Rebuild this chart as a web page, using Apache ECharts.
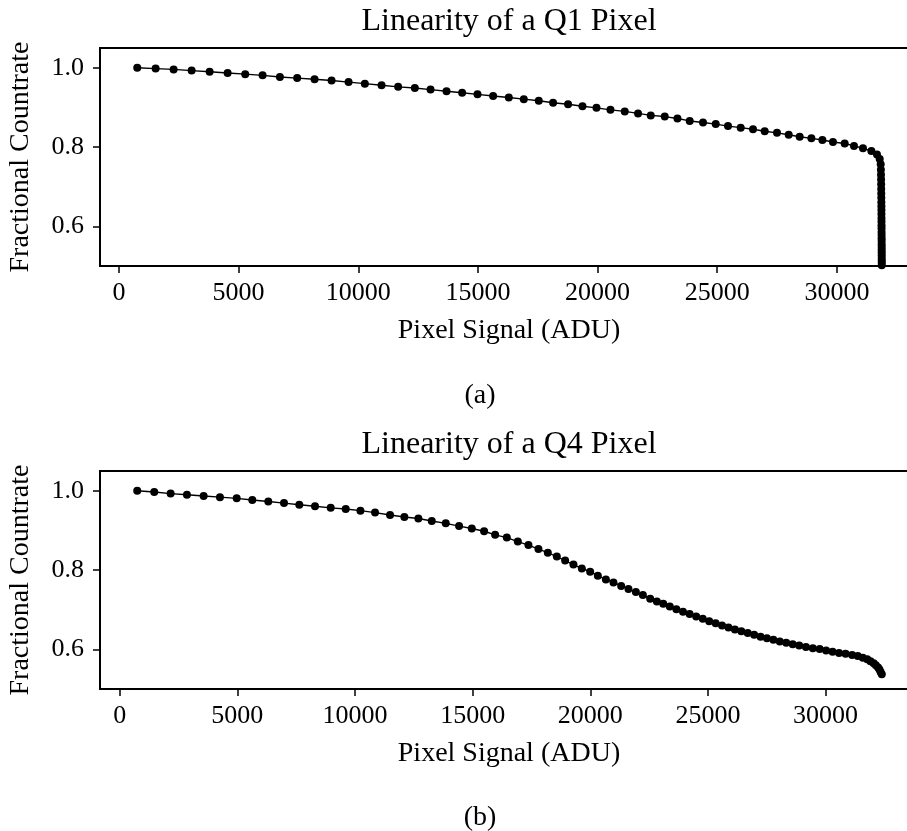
<!DOCTYPE html>
<html>
<head>
<meta charset="utf-8">
<title>Pixel linearity</title>
<script src="https://cdn.jsdelivr.net/npm/echarts@6/dist/echarts.min.js"></script>
<style>
  html, body { margin: 0; padding: 0; background: #fff; overflow: hidden; }
  #chart { width: 930px; height: 831px; }
</style>
</head>
<body>
<div id="chart"></div>
<script>
// Q1 pixel: signal (ADU) and fractional countrate per read
const q1Signal = [764, 1533, 2285, 3037, 3789, 4540, 5276, 6002, 6725, 7448, 8174, 8885, 9595, 10275, 10973,
  11666, 12364, 13020, 13688, 14340, 14983, 15635, 16290, 16917, 17543, 18141, 18767, 19369, 19954, 20538,
  21136, 21691, 22222, 22806, 23337, 23850, 24406, 24937, 25450, 25981, 26495, 26984, 27497, 27986, 28445,
  28934, 29394, 29836, 30325, 30714, 31090, 31441, 31675, 31788,
  31830, 31838, 31843, 31847, 31850, 31852, 31854, 31856, 31858, 31860, 31861, 31862, 31863, 31864, 31865,
  31866, 31867, 31868, 31869, 31870, 31870, 31871, 31871, 31872, 31872, 31873, 31873, 31874, 31874, 31875, 31875];
const q1Rate = [1.000, 0.998, 0.996, 0.993, 0.990, 0.987, 0.984, 0.981, 0.977, 0.974, 0.971, 0.968, 0.964, 0.960, 0.956,
  0.952, 0.949, 0.945, 0.941, 0.937, 0.933, 0.929, 0.925, 0.921, 0.917, 0.912, 0.908, 0.903, 0.899, 0.894,
  0.890, 0.885, 0.880, 0.877, 0.872, 0.866, 0.862, 0.858, 0.853, 0.849, 0.845, 0.840, 0.836, 0.831, 0.826,
  0.822, 0.818, 0.813, 0.809, 0.803, 0.797, 0.790, 0.781, 0.770,
  0.757, 0.743, 0.730, 0.718, 0.706, 0.694, 0.683, 0.672, 0.661, 0.651, 0.641, 0.631, 0.621, 0.612, 0.603,
  0.595, 0.586, 0.578, 0.570, 0.563, 0.555, 0.548, 0.541, 0.534, 0.527, 0.520, 0.514, 0.508, 0.502, 0.496, 0.490];

// Q4 pixel: signal (ADU) and fractional countrate per read
const q4Signal = [744, 1467, 2164, 2857, 3567, 4260, 4971, 5634, 6314, 6982, 7632, 8300, 8967, 9605, 10230,
  10851, 11489, 12097, 12692, 13262, 13857, 14423, 14963, 15486, 15954, 16451, 16919, 17370, 17795, 18194,
  18577, 18930, 19283, 19640, 19993, 20320, 20661, 20984, 21311, 21621, 21936, 22234, 22544, 22829,
  23099, 23378, 23658, 23939, 24220, 24499, 24779, 25053, 25326, 25598, 25871, 26144, 26417, 26690, 26963,
  27235, 27506, 27779, 28052, 28325, 28601, 28877, 29164, 29457, 29747, 30021, 30295, 30571, 30849, 31127,
  31367, 31581, 31769, 31906, 32043, 32136, 32230, 32289, 32338, 32387];
const q4Rate = [1.000, 0.997, 0.993, 0.990, 0.987, 0.984, 0.981, 0.977, 0.973, 0.969, 0.965, 0.961, 0.957, 0.954, 0.950,
  0.945, 0.939, 0.934, 0.930, 0.924, 0.918, 0.911, 0.905, 0.898, 0.889, 0.882, 0.872, 0.863, 0.853, 0.844,
  0.834, 0.824, 0.814, 0.804, 0.796, 0.786, 0.776, 0.769, 0.760, 0.752, 0.745, 0.737, 0.728, 0.721,
  0.715, 0.708, 0.701, 0.695, 0.689, 0.683, 0.677, 0.671, 0.666, 0.660, 0.655, 0.650, 0.646, 0.641, 0.637,
  0.632, 0.628, 0.624, 0.620, 0.617, 0.613, 0.610, 0.606, 0.603, 0.601, 0.597, 0.594, 0.591, 0.589, 0.586,
  0.583, 0.579, 0.575, 0.570, 0.565, 0.560, 0.554, 0.549, 0.543, 0.537];

// Tick labels
const xTicks = [0, 5000, 10000, 15000, 20000, 25000, 30000];
const yTicks = [0.6, 0.8, 1.0];

const FONT = '"Liberation Serif", "DejaVu Serif", serif';
const INK = '#000';

function pairs(xs, ys) {
  return xs.map((x, i) => [x, ys[i]]);
}

function xAxisFor(gridIndex, min, max) {
  return {
    type: 'value', gridIndex, min, max,
    splitLine: { show: false },
    axisLine: { show: true, onZero: false, lineStyle: { color: INK, width: 2 } },
    axisTick: { show: true, inside: false, length: 7, lineStyle: { color: INK, width: 1.5 }, customValues: xTicks },
    axisLabel: { customValues: xTicks, color: INK, fontFamily: FONT, fontSize: 26, margin: 14, formatter: v => String(v) }
  };
}

function yAxisFor(gridIndex) {
  return {
    type: 'value', gridIndex, min: 0.5, max: 1.05,
    splitLine: { show: false },
    axisLine: { show: true, onZero: false, lineStyle: { color: INK, width: 2 } },
    axisTick: { show: true, inside: false, length: 7, lineStyle: { color: INK, width: 1.5 }, customValues: yTicks },
    axisLabel: { customValues: yTicks, color: INK, fontFamily: FONT, fontSize: 26, margin: 16, formatter: v => v.toFixed(1) }
  };
}

function seriesFor(idx, data) {
  return {
    type: 'line', xAxisIndex: idx, yAxisIndex: idx, data,
    symbol: 'circle', symbolSize: 8, showAllSymbol: true, clip: true,
    lineStyle: { color: INK, width: 1.4 },
    itemStyle: { color: INK },
    emphasis: { disabled: true }
  };
}

function label(text, x, y, size, rotate) {
  return {
    type: 'text', x, y, rotation: rotate || 0,
    style: { text, fill: INK, font: size + 'px ' + FONT, align: 'center', verticalAlign: 'middle' }
  };
}

const chart = echarts.init(document.getElementById('chart'), null, { renderer: 'canvas' });
chart.setOption({
  animation: false,
  backgroundColor: '#fff',
  grid: [
    { left: 100, top: 48, width: 819, height: 218, show: true, borderColor: INK, borderWidth: 2, containLabel: false },
    { left: 100, top: 471, width: 819, height: 218, show: true, borderColor: INK, borderWidth: 2, containLabel: false }
  ],
  xAxis: [xAxisFor(0, -792, 33431), xAxisFor(1, -838, 33969)],
  yAxis: [yAxisFor(0), yAxisFor(1)],
  series: [seriesFor(0, pairs(q1Signal, q1Rate)), seriesFor(1, pairs(q4Signal, q4Rate))],
  graphic: [
    label('Linearity of a Q1 Pixel', 509, 22, 32),
    label('Pixel Signal (ADU)', 509, 331, 28),
    label('(a)', 480, 396, 28),
    label('Fractional Countrate', 21, 157, 28, Math.PI / 2),
    label('Linearity of a Q4 Pixel', 509, 445, 32),
    label('Pixel Signal (ADU)', 509, 754, 28),
    label('(b)', 480, 818, 28),
    label('Fractional Countrate', 21, 580, 28, Math.PI / 2)
  ]
});
</script>
</body>
</html>
